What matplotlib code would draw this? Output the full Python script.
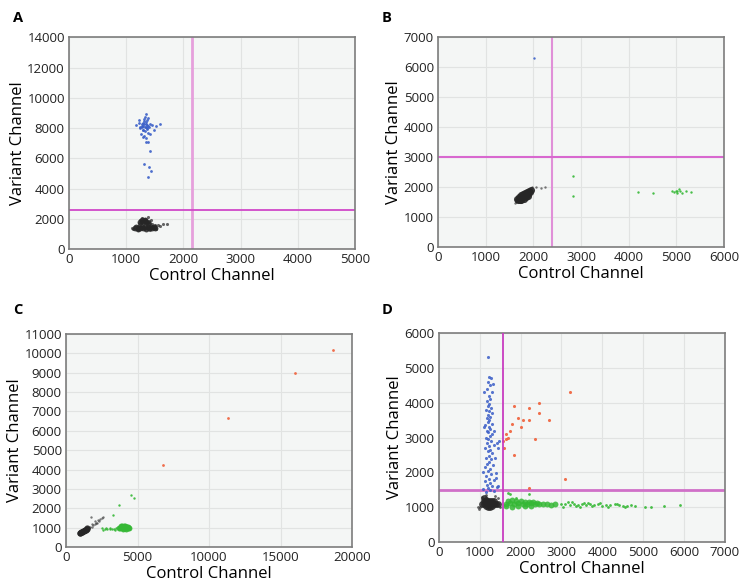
import matplotlib.pyplot as plt

plt.rcParams['font.family'] = ['Open Sans', 'DejaVu Sans']

# --- painel A ---
a_blue_x = [1180, 1220, 1250, 1270, 1290, 1300, 1310, 1320, 1330, 1340, 1350, 1360, 1370, 1380, 1400, 1420, 1450, 1480, 1520, 1600,
            1240, 1280, 1300, 1330, 1350, 1370, 1390, 1260, 1310, 1340, 1290, 1360, 1410, 1230, 1320, 1380, 1300, 1350, 1330, 1280,
            1380, 1340, 1420, 1310, 1400, 1430, 1375]
a_blue_y = [8200, 8500, 8050, 8300, 7900, 8150, 8600, 8250, 7800, 8100, 8400, 7950, 8200, 8650, 8050, 8300, 8200, 7900, 8150, 8300,
            8000, 8100, 8350, 8050, 8250, 8000, 7700, 7600, 7500, 8900, 7850, 8550, 7600, 8350, 8450, 8150, 7400, 7350, 8700, 8150,
            7050, 7050, 6450, 5600, 5430, 5150, 4780]
a_black_core_x = [1150, 1200, 1250, 1300, 1350, 1400, 1450, 1500, 1180, 1230, 1280, 1330, 1380, 1430, 1480,
                  1240, 1290, 1340, 1390, 1280, 1330]
a_black_core_y = [1380, 1350, 1400, 1380, 1360, 1400, 1380, 1390, 1460, 1480, 1450, 1470, 1460, 1450, 1440,
                  1780, 1800, 1760, 1740, 1920, 1900]
a_black_x = [1220, 1260, 1300, 1340, 1380, 1420, 1250, 1300, 1350, 1400, 1280, 1330, 1380, 1440,
             1550, 1600, 1650, 1720, 1500, 1450, 1120, 1530, 1100, 1200, 1420]
a_black_y = [1700, 1750, 1800, 1780, 1720, 1750, 1900, 1950, 1900, 1850, 2050, 2000, 2100, 1950,
             1560, 1500, 1650, 1640, 1600, 1650, 1300, 1320, 1420, 1280, 1270]
a_thr_x = 2150
a_thr_y = 2600

# --- painel B ---
b_black_core_x = [1680, 1720, 1760, 1800, 1840, 1880, 1920, 1700, 1740, 1780, 1820, 1860, 1900, 1660, 1750, 1850, 1950, 1720, 1800, 1880]
b_black_core_y = [1580, 1620, 1650, 1690, 1730, 1770, 1820, 1680, 1720, 1760, 1800, 1840, 1880, 1600, 1560, 1650, 1900, 1550, 1600, 1700]
b_black_x = [2050, 2250, 1620, 2150, 1980, 1640]
b_black_y = [2000, 2000, 1450, 1950, 2000, 1500]
b_blue_x = [2020]
b_blue_y = [6300]
b_green_x = [2840, 2840, 4200, 4500, 4950, 5000, 5020, 5050, 5080, 5120, 5200, 5300, 4900, 5010]
b_green_y = [2350, 1700, 1830, 1800, 1820, 1870, 1790, 1930, 1850, 1800, 1860, 1840, 1860, 1880]
b_thr_x = 2400
b_thr_y = 3000

# --- painel C ---
c_black_core_x = [950, 1000, 1050, 1100, 1150, 1200, 1250, 1300, 1350, 1400, 1450, 1500]
c_black_core_y = [720, 740, 760, 770, 790, 810, 830, 860, 880, 900, 920, 960]
c_black_x = [1600, 1700, 1800, 1900, 2000, 2100, 2200, 2300, 2400, 2500, 1730, 2050, 2600, 1850, 2250]
c_black_y = [1000, 1050, 1050, 1150, 1200, 1250, 1250, 1350, 1450, 1500, 1560, 1350, 1550, 1200, 1400]
c_green_core_x = [3700, 3800, 3900, 4000, 4100, 4200, 4300, 4400, 3850, 3950, 4050, 4150, 4250, 4350, 4000, 4200]
c_green_core_y = [980, 1000, 1020, 1000, 990, 1010, 1000, 990, 1060, 1070, 1060, 1080, 1050, 1040, 930, 950]
c_green_x = [2600, 2750, 2900, 3050, 3200, 3350, 3500, 2800, 3100, 3400, 3300, 3680, 4560, 4720, 2500]
c_green_y = [900, 920, 910, 930, 940, 950, 960, 960, 970, 900, 1650, 2150, 2700, 2550, 1000]
c_red_x = [6800, 11300, 16000, 18650]
c_red_y = [4250, 6650, 9000, 10150]

# --- painel D ---
d_black_core_x = [1050, 1100, 1150, 1200, 1250, 1300, 1350, 1400, 1450, 1100, 1150, 1200, 1250, 1300, 1350, 1150, 1200, 1250, 1300, 1100]
d_black_core_y = [1100, 1080, 1120, 1100, 1090, 1110, 1100, 1080, 1100, 1180, 1200, 1190, 1170, 1190, 1180, 1020, 1000, 1010, 1030, 1250]
d_black_x = [980, 960, 1000, 1500, 1050, 1450, 1380, 1150]
d_black_y = [950, 1000, 1000, 1000, 1300, 1250, 1320, 1350]
d_blue_x = [1150, 1250, 1350, 1080, 1200, 1300, 1420, 1180, 1260, 1120, 1340, 1220, 1160, 1280, 1400, 1200, 1250, 1130, 1320, 1180,
            1240, 1280, 1150, 1220, 1300, 1200, 1260, 1140, 1230, 1350, 1190, 1270, 1210, 1150, 1250, 1300, 1200, 1180, 1260, 1220,
            1140, 1290, 1200, 1240, 1170, 1260, 1210, 1300, 1230, 1150, 1270, 1200, 1240, 1180, 1260, 1220, 1300, 1170, 1250, 1200,
            1280, 1230, 1200, 1450, 1480, 1420, 1100, 1080, 1380, 1340, 1400, 1450, 1100, 1330]
d_blue_y = [1450, 1480, 1460, 1520, 1550, 1600, 1580, 1650, 1700, 1750, 1780, 1820, 1900, 1950, 1980, 2050, 2100, 2150, 2200, 2250,
            2300, 2380, 2420, 2480, 2550, 2600, 2650, 2700, 2750, 2800, 2850, 2900, 2950, 3000, 3050, 3100, 3150, 3200, 3250, 3300,
            3350, 3400, 3450, 3500, 3550, 3600, 3650, 3700, 3750, 3800, 3850, 3900, 3950, 4050, 4100, 4200, 4300, 4400, 4500, 4600,
            4700, 4750, 5300, 2700, 2900, 2850, 3300, 2000, 2400, 3200, 1850, 1600, 4300, 4550]
d_green_core_x = [1650, 1750, 1850, 1950, 2050, 2150, 2250, 2350, 2450, 2550, 2650, 2750, 2850, 1700, 1800, 1900, 2000, 2100, 2200,
                  2300, 2400, 1650, 1800, 1950, 2100, 2250]
d_green_core_y = [1100, 1110, 1090, 1120, 1100, 1080, 1110, 1090, 1100, 1080, 1090, 1070, 1080, 1180, 1200, 1170, 1190, 1160, 1150,
                  1140, 1130, 1020, 1010, 1030, 1020, 1040]
d_green_x = [3000, 3100, 3200, 3300, 3400, 3500, 3600, 3700, 3800, 3900, 4000, 4100, 4200, 4300, 4400, 4500, 4600, 4700, 4800, 5050,
             5200, 5500, 5900, 3150, 3350, 3550, 3750, 3950, 4150, 4350, 4550, 3050, 3250, 3450, 3650, 1700, 1750, 2200, 1900]
d_green_y = [1100, 1080, 1060, 1090, 1070, 1100, 1050, 1080, 1060, 1090, 1040, 1070, 1050, 1080, 1060, 1040, 1030, 1050, 1020, 1000,
             1000, 1020, 1060, 1150, 1030, 1130, 1020, 1120, 1010, 1090, 1000, 1010, 1140, 1000, 1110, 1420, 1370, 1380, 1250]
d_red_x = [1570, 1600, 1650, 1700, 1750, 1800, 1850, 1850, 1950, 2000, 2050, 2200, 2200, 2350, 2450, 2450, 2700, 3100, 3200, 2200, 1650]
d_red_y = [2900, 2700, 2950, 3000, 3200, 3400, 3900, 2500, 3550, 3300, 3500, 3500, 3850, 2950, 4000, 3700, 3500, 1800, 4300, 1550, 3100]
d_thr_x = 1570
d_thr_y = 1480

AZUL = '#3b5fc8'
PRETO = '#262626'
VERDE = '#35b835'
VERMELHO = '#f0603a'
MAGENTA = '#d048c8'

fig = plt.figure(figsize=(7.4, 5.82), dpi=100)

def painel(pos, xmax, xstep, ymax, ystep, letra, letra_pos):
    ax = fig.add_axes(pos)
    ax.set_facecolor('#f4f6f5')
    ax.set_xlim(0, xmax)
    ax.set_ylim(0, ymax)
    ax.set_xticks(range(0, xmax + 1, xstep))
    ax.set_yticks(range(0, ymax + 1, ystep))
    ax.grid(color='#e1e3e2', linewidth=0.8)
    ax.set_axisbelow(True)
    ax.tick_params(length=0, labelsize=9.5, pad=3, colors='#222222')
    for s in ax.spines.values():
        s.set_color('#7d7d7d')
        s.set_linewidth(1.2)
    ax.set_xlabel('Control Channel', fontsize=12, labelpad=1)
    ax.set_ylabel('Variant Channel', fontsize=12, labelpad=1)
    fig.text(letra_pos[0], letra_pos[1], letra, fontsize=10.5, fontweight='bold')
    return ax

def pontos(ax, x, y, cor, s=3, alpha=0.9):
    ax.scatter(x, y, s=s, color=cor, alpha=alpha, linewidths=0, zorder=3)

# A
ax = painel([0.0932, 0.572, 0.3865, 0.364], 5000, 1000, 14000, 2000, 'A', (0.018, 0.962))
pontos(ax, a_blue_x, a_blue_y, AZUL, s=4)
pontos(ax, a_black_core_x, a_black_core_y, PRETO, s=18, alpha=0.85)
pontos(ax, a_black_x, a_black_y, PRETO, s=5, alpha=0.7)
ax.axvline(a_thr_x, color='#e6a0dc', linewidth=2, zorder=2)
ax.axhline(a_thr_y, color=MAGENTA, linewidth=1.3, zorder=2)

# B
ax = painel([0.592, 0.5756, 0.3865, 0.361], 6000, 1000, 7000, 1000, 'B', (0.516, 0.962))
pontos(ax, b_black_core_x, b_black_core_y, PRETO, s=26, alpha=0.9)
pontos(ax, b_black_x, b_black_y, PRETO, s=3, alpha=0.6)
pontos(ax, b_blue_x, b_blue_y, AZUL, s=3)
pontos(ax, b_green_x, b_green_y, VERDE, s=3)
ax.axvline(b_thr_x, color='#e090d8', linewidth=1.5, zorder=2)
ax.axhline(b_thr_y, color='#d868cf', linewidth=1.5, zorder=2)

# C
ax = painel([0.0892, 0.0601, 0.3865, 0.366], 20000, 5000, 11000, 1000, 'C', (0.018, 0.46))
pontos(ax, c_black_core_x, c_black_core_y, PRETO, s=20, alpha=0.9)
pontos(ax, c_black_x, c_black_y, PRETO, s=3, alpha=0.6)
pontos(ax, c_green_core_x, c_green_core_y, VERDE, s=18, alpha=0.9)
pontos(ax, c_green_x, c_green_y, VERDE, s=3)
pontos(ax, c_red_x, c_red_y, VERMELHO, s=4)

# D
ax = painel([0.593, 0.0687, 0.3865, 0.359], 7000, 1000, 6000, 1000, 'D', (0.516, 0.46))
pontos(ax, d_black_core_x, d_black_core_y, PRETO, s=24, alpha=0.85)
pontos(ax, d_black_x, d_black_y, PRETO, s=4, alpha=0.7)
pontos(ax, d_blue_x, d_blue_y, AZUL, s=5, alpha=0.85)
pontos(ax, d_green_core_x, d_green_core_y, VERDE, s=18, alpha=0.85)
pontos(ax, d_green_x, d_green_y, VERDE, s=4)
pontos(ax, d_red_x, d_red_y, VERMELHO, s=5)
ax.axvline(d_thr_x, color='#c83cc0', linewidth=1.3, zorder=4)
ax.axhline(d_thr_y, color='#d070c8', linewidth=2, zorder=2)

fig.savefig('out.png', dpi=100)
